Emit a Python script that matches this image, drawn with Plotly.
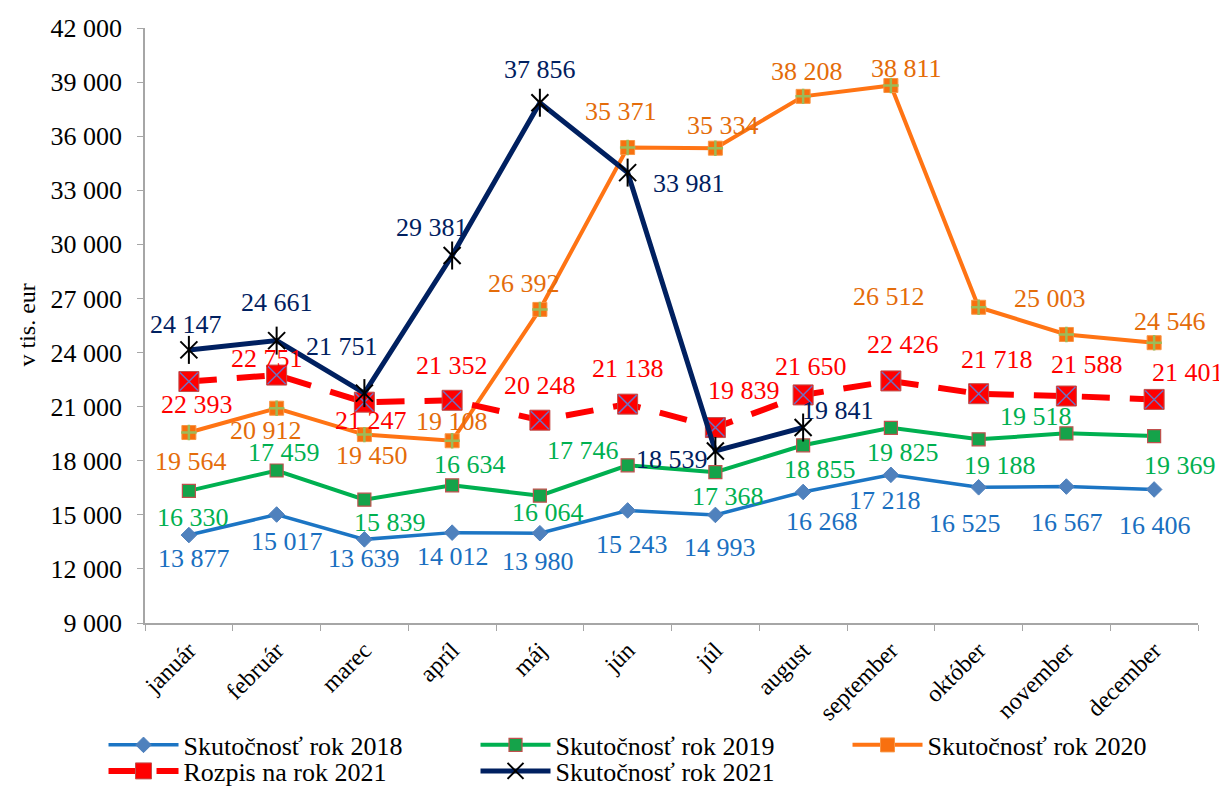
import plotly.graph_objects as go

months = ["január", "február", "marec", "apríl", "máj", "jún", "júl", "august",
          "september", "október", "november", "december"]

s2018 = [13877, 15017, 13639, 14012, 13980, 15243, 14993, 16268, 17218, 16525, 16567, 16406]
s2019 = [16330, 17459, 15839, 16634, 16064, 17746, 17368, 18855, 19825, 19188, 19518, 19369]
s2020 = [19564, 20912, 19450, 19108, 26392, 35371, 35334, 38208, 38811, 26512, 25003, 24546]
rozpis2021 = [22393, 22751, 21247, 21352, 20248, 21138, 19839, 21650, 22426, 21718, 21588, 21401]
s2021 = [24147, 24661, 21751, 29381, 37856, 33981, 18539, 19841]

y_ticks = list(range(9000, 42001, 3000))

# label offsets in screen pixels (dx right, dy down) -- styling only
off2018 = [(5, 23), (10, 27), (0, 19), (1, 24), (-2, 28), (4, 34), (5, 33), (19, 30),
           (-6, 26), (-14, 36), (1, 36), (1, 36)]
off2019 = [(4, 27), (7, -18), (26, 23), (18, -21), (8, 17), (-45, -15), (13, 24), (17, 24),
           (12, 25), (21, 26), (-30, -17), (26, 29)]
off2020 = [(2, 29), (-11, 22), (8, 21), (0, -19), (-16, -26), (-7, -36), (8, -23), (4, -25),
           (16, -17), (-90, -11), (-16, -36), (16, -21)]
offR = [(8, 23), (-10, -17), (7, 18), (0, -35), (0, -35), (0, -36), (29, -37), (8, -28),
        (12, -36), (18, -34), (21, -32), (34, -27)]
off2021 = [(-3, -25), (0, -38), (-22, -47), (-20, -28), (0, -33), (61, 11), (-43, 8), (35, -17)]

FONT = "Liberation Serif, Times New Roman, serif"
LBL = 26

fig = go.Figure()


def series(name, y, line, marker, legend="legend"):
    fig.add_trace(go.Scatter(x=months[:len(y)], y=y, name=name, mode="lines+markers",
                             line=line, marker=marker, cliponaxis=False, legend=legend))


def overlay(y, symbol, size, color, width):
    fig.add_trace(go.Scatter(x=months[:len(y)], y=y, mode="markers",
                             marker=dict(symbol=symbol, size=size, color=color,
                                         line=dict(color=color, width=width)),
                             showlegend=False, hoverinfo="skip", cliponaxis=False))


def labels(y, offs, color):
    for m, v, (dx, dy) in zip(months, y, offs):
        fig.add_annotation(x=m, y=v, text=f"{v:,}".replace(",", " "), showarrow=False,
                           xshift=dx, yshift=-dy, xanchor="center", yanchor="middle",
                           font=dict(family=FONT, size=LBL, color=color))


series("Skutočnosť rok 2018", s2018, dict(color="#1C75C4", width=3.5),
       dict(symbol="diamond", size=12, color="#4F81BD", line=dict(color="#4F81BD", width=1)))
series("Skutočnosť rok 2019", s2019, dict(color="#00B050", width=4),
       dict(symbol="square", size=13, color="#15A34A", line=dict(color="#C0504D", width=1.2)))
series("Skutočnosť rok 2020", s2020, dict(color="#FF7414", width=4),
       dict(symbol="square", size=14, color="#F8700F", line=dict(color="#F79646", width=1)))
overlay(s2020, "cross-thin-open", 11, "#9BBB59", 2.5)
series("Rozpis na rok 2021", rozpis2021, dict(color="#FF0000", width=6, dash="28px,20px"),
       dict(symbol="square", size=20, color="#FF0000", line=dict(color="#C0504D", width=1)),
       legend="legend2")
overlay(rozpis2021, "x-thin-open", 18, "#6F70C0", 1.5)
series("Skutočnosť rok 2021", s2021, dict(color="#002060", width=5),
       dict(symbol="x-thin-open", size=17, color="#000000", line=dict(color="#000000", width=2)),
       legend="legend2")
overlay(s2021, "line-ns-open", 20, "#000000", 2)

labels(s2018, off2018, "#1A6FC0")
labels(s2019, off2019, "#00B050")
labels(s2020, off2020, "#E46C0A")
labels(rozpis2021, offR, "#FF0000")
labels(s2021, off2021, "#002060")

fig.add_annotation(xref="paper", yref="paper", x=-0.113, y=0.5, text="v tis. eur",
                   textangle=-90, showarrow=False, xanchor="center", yanchor="middle",
                   font=dict(family=FONT, size=24, color="#000000"))

leg_common = dict(orientation="h", x=-0.0394, xanchor="left", yanchor="middle",
                  entrywidth=287, entrywidthmode="pixels", font=dict(family=FONT, size=26),
                  tracegroupgap=0, itemwidth=70, bgcolor="rgba(0,0,0,0)")

# the page body has an 8px default margin, so margins are reduced by 8px on the left/top
fig.update_layout(
    width=1227, height=787,
    margin=dict(l=137, r=37, t=20, b=172, autoexpand=False),
    paper_bgcolor="white", plot_bgcolor="white",
    separators=". ",
    font=dict(family=FONT, size=24, color="#000000"),
    showlegend=True,
    legend=dict(y=-0.205, **leg_common),
    legend2=dict(y=-0.2487, **leg_common),
    xaxis=dict(type="category", range=[-0.5, 11.5], showgrid=False, automargin=False,
               showline=True, linecolor="#A6A6A6", linewidth=1.5,
               ticks="outside", tickson="boundaries", ticklen=6, tickcolor="#A6A6A6",
               tickangle=-45, tickfont=dict(size=24), ticklabelstandoff=2),
    yaxis=dict(range=[9000, 42000], tickvals=y_ticks, tickformat=",d", showgrid=False,
               automargin=False, showline=True, linecolor="#A6A6A6", linewidth=1.5,
               ticks="outside", ticklen=6, tickcolor="#A6A6A6", tickfont=dict(size=26),
               ticklabelstandoff=10, zeroline=False),
)

fig.write_html("out.html")
